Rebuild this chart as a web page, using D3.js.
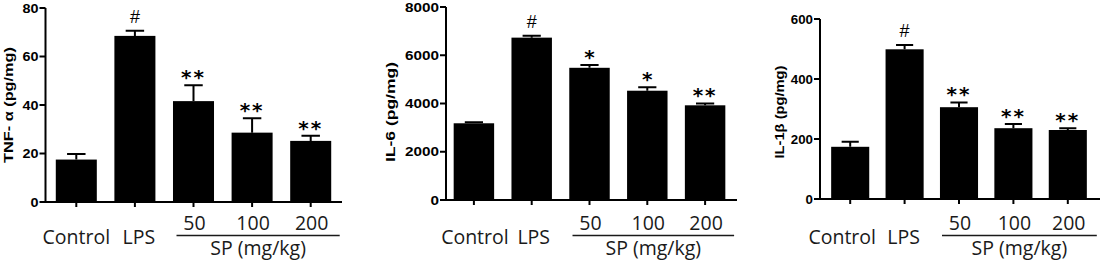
<!DOCTYPE html>
<html lang="en">
<head>
  <meta charset="UTF-8">
  <title>Cytokines</title>
  <style>
    body { margin: 0; background: #fff; }
    svg { display: block; }
  </style>
</head>
<body>
  <script src="https://d3js.org/d3.v7.min.js"></script>
  <script>

    const categories = ['Control', 'LPS', '50', '100', '200']

    const tnfMean = [17.5, 68.5, 41.6, 28.6, 25.2]
    const tnfSem = [2.3, 2.1, 6.5, 5.9, 2.1]
    const tnfMarks = ['', '#', '**', '**', '**']
    const tnfTicks = [0, 20, 40, 60, 80]

    const il6Mean = [3180, 6730, 5480, 4530, 3925]
    const il6Sem = [40, 80, 115, 140, 80]
    const il6Marks = ['', '#', '*', '*', '**']
    const il6Ticks = [0, 2000, 4000, 6000, 8000]

    const il1Mean = [174, 499, 306, 236, 230]
    const il1Sem = [17, 14, 16, 14, 6]
    const il1Marks = ['', '#', '**', '**', '**']
    const il1Ticks = [0, 200, 400, 600]

    const groupLabel = 'SP (mg/kg)'

    const panels = [
      { title: 'TNF- α (pg/mg)', mean: tnfMean, sem: tnfSem, marks: tnfMarks, ticks: tnfTicks,
        ax0: 45.5, ax1: 342, yTop: 8, yBot: 202, b0: 47, b1: 340,
        tx: 8, ty: 105, tlen: 116, digitW: 8, ctrlDx: 0, lpsDx: 4 },
      { title: 'IL-6 (pg/mg)', mean: il6Mean, sem: il6Sem, marks: il6Marks, ticks: il6Ticks,
        ax0: 446, ax1: 737, yTop: 7, yBot: 200, b0: 445, b1: 734,
        tx: 390, ty: 112, tlen: 100, digitW: 8.5, ctrlDx: 1, lpsDx: 2 },
      { title: 'IL-1β (pg/mg)', mean: il1Mean, sem: il1Sem, marks: il1Marks, ticks: il1Ticks,
        ax0: 820, ax1: 1100, yTop: 19, yBot: 199, b0: 823, b1: 1095,
        tx: 779, ty: 112, tlen: 93, digitW: 7.4, ctrlDx: -8, lpsDx: -1 },
    ]

    const W = 1102, H = 264

    const svg = d3.select('body')
      .append('svg')
      .attr('width', W)
      .attr('height', H)

    panels.forEach(p => {
      const g = svg.append('g')

      const x = d3.scaleBand()
        .domain(categories)
        .range([p.b0, p.b1])
        .paddingInner(0.3)
        .paddingOuter(0.15)

      const y = d3.scaleLinear()
        .domain([0, d3.max(p.ticks)])
        .range([p.yBot, p.yTop])

      const bw = x.bandwidth()
      const cx = c => x(c) + bw / 2

      // bars
      g.selectAll('rect.bar')
        .data(categories)
        .join('rect')
        .attr('class', 'bar')
        .attr('x', c => x(c))
        .attr('width', bw)
        .attr('y', (c, i) => y(p.mean[i]))
        .attr('height', (c, i) => y(0) - y(p.mean[i]))
        .attr('fill', '#000')

      // error bars (upper only)
      const cap = bw * 0.45
      g.selectAll('path.err')
        .data(categories)
        .join('path')
        .attr('class', 'err')
        .attr('d', (c, i) => {
          const top = y(p.mean[i] + p.sem[i])
          const base = y(p.mean[i])
          return `M${cx(c)},${base}V${top}M${cx(c) - cap / 2},${top}H${cx(c) + cap / 2}`
        })
        .attr('stroke', '#000')
        .attr('stroke-width', 2)
        .attr('fill', 'none')

      // significance marks
      g.selectAll('text.mark')
        .data(categories)
        .join('text')
        .attr('class', 'mark')
        .attr('x', cx)
        .attr('y', (c, i) => y(p.mean[i] + p.sem[i]) - (p.marks[i] === '#' ? 8 : 1))
        .attr('text-anchor', 'middle')
        .attr('font-family', (c, i) => p.marks[i] === '#' ? 'Liberation Sans, Arial, sans-serif' : 'DejaVu Sans, sans-serif')
        .attr('font-weight', (c, i) => p.marks[i] === '#' ? 'normal' : 'bold')
        .attr('font-size', (c, i) => p.marks[i] === '#' ? 18 : 20)
        .attr('letter-spacing', (c, i) => p.marks[i] === '**' ? 2 : 0)
        .attr('fill', '#000')
        .text((c, i) => p.marks[i])

      // axes
      g.append('path')
        .attr('d', `M${p.ax0},${p.yTop}V${p.yBot}H${p.ax1}`)
        .attr('stroke', '#000')
        .attr('stroke-width', 2)
        .attr('fill', 'none')

      g.selectAll('line.ytick')
        .data(p.ticks)
        .join('line')
        .attr('class', 'ytick')
        .attr('x1', p.ax0 - 6)
        .attr('x2', p.ax0)
        .attr('y1', d => y(d))
        .attr('y2', d => y(d))
        .attr('stroke', '#000')
        .attr('stroke-width', 2)

      g.selectAll('text.ylab')
        .data(p.ticks)
        .join('text')
        .attr('class', 'ylab')
        .attr('x', p.ax0 - 7)
        .attr('y', d => y(d) + 4.5)
        .attr('text-anchor', 'end')
        .attr('font-family', 'Liberation Sans, Arial, sans-serif')
        .attr('font-weight', 'bold')
        .attr('font-size', 12.5)
        .attr('textLength', d => String(d).length * p.digitW)
        .attr('lengthAdjust', 'spacingAndGlyphs')
        .text(d => d)

      g.selectAll('line.xtick')
        .data(categories)
        .join('line')
        .attr('class', 'xtick')
        .attr('x1', cx)
        .attr('x2', cx)
        .attr('y1', p.yBot)
        .attr('y2', p.yBot + 5)
        .attr('stroke', '#000')
        .attr('stroke-width', 2)

      // y title
      g.append('text')
        .attr('transform', `translate(${p.tx + 4.5},${p.ty}) rotate(-90)`)
        .attr('text-anchor', 'middle')
        .attr('font-family', 'Liberation Sans, Arial, sans-serif')
        .attr('font-weight', 'bold')
        .attr('font-size', 12.5)
        .attr('textLength', p.tlen)
        .attr('lengthAdjust', 'spacingAndGlyphs')
        .text(p.title)

      // category labels
      const lab = g.append('g')
        .attr('font-family', 'Open Sans, sans-serif')
        .attr('font-size', 19.5)
        .attr('fill', '#1a1a1a')
        .attr('text-anchor', 'middle')

      lab.append('text')
        .attr('x', cx(categories[0]) + p.ctrlDx)
        .attr('y', 244)
        .text(categories[0])
      lab.append('text')
        .attr('x', cx(categories[1]) + p.lpsDx)
        .attr('y', 244)
        .text(categories[1])

      lab.selectAll('text.dose')
        .data(categories.slice(2))
        .join('text')
        .attr('class', 'dose')
        .attr('x', c => cx(c) + 1)
        .attr('y', 230)
        .text(c => c)

      const l0 = cx(categories[2]) - 17
      const l1 = cx(categories[4]) + 29
      g.append('line')
        .attr('x1', l0)
        .attr('x2', l1)
        .attr('y1', 235.5)
        .attr('y2', 235.5)
        .attr('stroke', '#1a1a1a')
        .attr('stroke-width', 1.3)

      lab.append('text')
        .attr('x', (l0 + l1) / 2)
        .attr('y', 255)
        .text(groupLabel)
    })

  </script>
</body>
</html>
